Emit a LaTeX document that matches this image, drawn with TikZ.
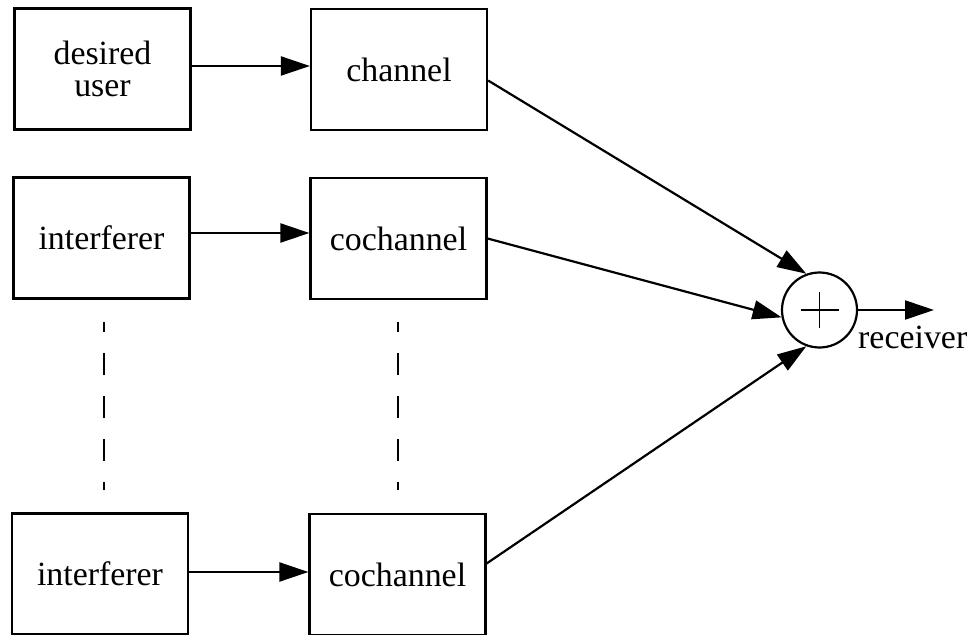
\documentclass[tikz,border=0pt]{standalone}
\usepackage{fontspec}
\setmainfont{Liberation Serif}
\usetikzlibrary{arrows.meta}
\begin{document}
\begin{tikzpicture}[x=1bp,y=-1bp,
  blk/.style={draw,line width=2.2bp,minimum width=176bp,minimum height=121bp,inner sep=0pt,align=center,font=\fontsize{34}{33}\selectfont},
  conn/.style={line width=2.2bp,-{Triangle[length=29bp,width=19bp]}},
  dsh/.style={line width=2.2bp,dash pattern=on 22bp off 21bp,dash phase=12bp},
  sumnode/.style={draw,circle,line width=2.2bp,minimum size=75bp,inner sep=0pt}]
\useasboundingbox (0,0) rectangle (973,635);
\node[blk] (du) at (102.5,69) {desired\\[-1bp]user};
\node[blk] (ch) at (399,69.5) {channel};
\node[blk] (if1) at (101.5,238) {interferer};
\node[blk] (cc1) at (398.5,238.5) {cochannel};
\node[blk] (if2) at (100,574) {interferer};
\node[blk] (cc2) at (397.5,574.5) {cochannel};
\node[sumnode] (sum) at (819.5,310) {};
\draw[line width=1.5bp] ([xshift=-19bp]sum.center) -- ([xshift=19bp]sum.center);
\draw[line width=1.5bp] ([yshift=-18bp]sum.center) -- ([yshift=18bp]sum.center);
\coordinate (out) at (934,310);
\node[anchor=base west,inner sep=0pt,font=\fontsize{34}{33}\selectfont] (rx) at (858,348) {receiver};
\draw[conn] (du.east |- 0,66) -- (ch.west |- 0,66);
\draw[conn] (if1.east |- 0,233) -- (cc1.west |- 0,233);
\draw[conn] (if2.east |- 0,572) -- (cc2.west |- 0,572);
\draw[conn] ([yshift=-11bp]ch.east) -- (sum.110);
\draw[conn] (cc1.east) -- (sum.191);
\draw[conn] ([yshift=11bp]cc2.east) -- (sum.250);
\draw[conn] (sum.east) -- (out);
\coordinate (d1a) at (104,322);
\coordinate (d1b) at (104,490);
\coordinate (d2a) at (398,322);
\coordinate (d2b) at (398,490);
\draw[dsh] (d1a) -- (d1b);
\draw[dsh] (d2a) -- (d2b);
\end{tikzpicture}
\end{document}
